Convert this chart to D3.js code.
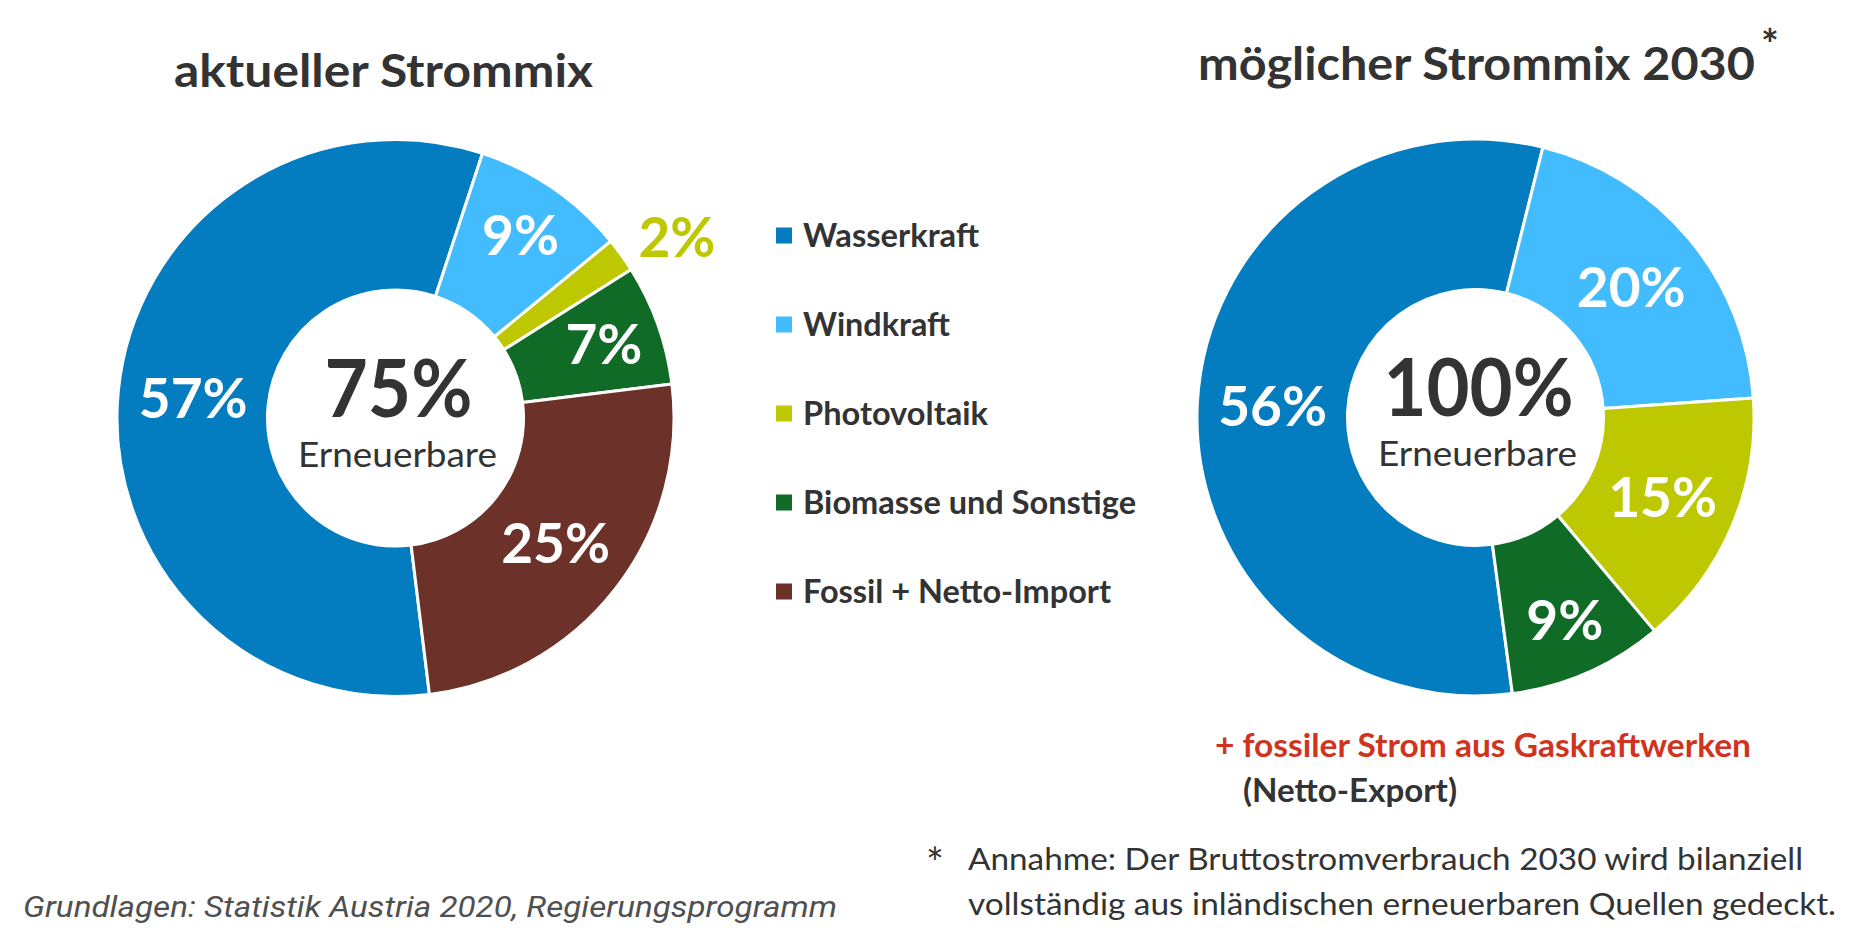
<!DOCTYPE html>
<html>
<head>
<meta charset="utf-8">
<script src="https://cdn.jsdelivr.net/npm/d3@7"></script>
<style>
  html, body { margin: 0; padding: 0; background: #ffffff; }
  svg { display: block; }
</style>
</head>
<body>
<svg id="chart" width="1860" height="945"></svg>
<script>
// ---------------- DATA ----------------
const categories = ["Wasserkraft", "Windkraft", "Photovoltaik", "Biomasse und Sonstige", "Fossil + Netto-Import"];
const currentValues = [57, 9, 2, 7, 25];          // aktueller Strommix (%)
const futureValues = [56, 20, 15, 9];             // möglicher Strommix 2030 (%)
const renewableCount = 4;                          // first four categories are renewable
const titles = ["aktueller Strommix", "möglicher Strommix 2030"];
const centerSubLabel = "Erneuerbare";
const noteRed = "+ fossiler Strom aus Gaskraftwerken";
const noteDark = "(Netto-Export)";
const footnoteLines = ["Annahme: Der Bruttostromverbrauch 2030 wird bilanziell",
                       "vollständig aus inländischen erneuerbaren Quellen gedeckt."];
const sourceText = "Grundlagen: Statistik Austria 2020, Regierungsprogramm";

// ---------------- STYLE ----------------
const colors = ["#037CC0", "#43BBFF", "#BEC800", "#106B27", "#6C3129"];
const dark = "#333333";
const FONT = "Lato, 'Open Sans', sans-serif";

const svg = d3.select("#chart");
const color = d3.scaleOrdinal().domain(categories).range(colors);

const R = 278.5, r0 = 128;
const deg = Math.PI / 180;

function fit(sel, w) { sel.attr("textLength", w).attr("lengthAdjust", "spacingAndGlyphs"); return sel; }

function donut(values, cx, cy, startDeg, centerW) {
  const data = values.map((v, i) => ({ cat: categories[i], v }));
  const pie = d3.pie().sort(null).value(d => d.v)
    .startAngle(startDeg * deg).endAngle(startDeg * deg + 2 * Math.PI);
  const arcs = pie(data);
  const arc = d3.arc().innerRadius(r0).outerRadius(R);
  const g = svg.append("g").attr("transform", `translate(${cx},${cy})`);

  g.selectAll("path.slice").data(arcs).join("path")
    .attr("class", "slice")
    .attr("d", arc)
    .attr("fill", d => color(d.data.cat))
    .attr("stroke", "#ffffff")
    .attr("stroke-width", 3)
    .attr("stroke-linejoin", "round");

  const mid = (R + r0) / 2;
  const inside = arcs.filter(d => d.data.v >= 5);
  const outside = arcs.filter(d => d.data.v < 5);
  const labelPos = d => {
    const lr = d.data.v < 10 ? mid + 18 : mid;
    return d3.arc().innerRadius(lr).outerRadius(lr).centroid(d);
  };

  g.selectAll("text.lbl").data(inside).join("text")
    .attr("class", "lbl")
    .attr("x", d => labelPos(d)[0])
    .attr("y", d => labelPos(d)[1])
    .attr("dy", "0.36em")
    .attr("text-anchor", "middle")
    .attr("font-family", FONT)
    .attr("font-weight", 700)
    .attr("font-size", 55)
    .attr("fill", "#ffffff")
    .text(d => d3.format("d")(d.data.v) + "%");

  // small slices: label outside, next to the outer edge
  const edge = d => d3.arc().innerRadius(R).outerRadius(R).centroid(d);
  g.selectAll("text.out").data(outside).join("text")
    .attr("class", "out")
    .attr("x", d => edge(d)[0] + 17)
    .attr("y", d => edge(d)[1] + 2)
    .attr("text-anchor", "start")
    .attr("font-family", FONT)
    .attr("font-weight", 700)
    .attr("font-size", 55)
    .attr("fill", d => color(d.data.cat))
    .text(d => d3.format("d")(d.data.v) + "%");

  const renewable = d3.sum(values.slice(0, renewableCount));
  fit(g.append("text")
    .attr("x", 3).attr("y", -1.4)
    .attr("text-anchor", "middle")
    .attr("font-family", FONT).attr("font-weight", 700)
    .attr("font-size", 81).attr("fill", dark)
    .text(renewable + "%"), centerW);
  fit(g.append("text")
    .attr("x", 2).attr("y", 48.5)
    .attr("text-anchor", "middle")
    .attr("font-family", FONT).attr("font-weight", 400)
    .attr("font-size", 35.5).attr("fill", dark)
    .text(centerSubLabel), 199);
}

donut(currentValues, 395.5, 418, 173, 148);
donut(futureValues, 1475.5, 417.5, 172.4, 190);

// ---------------- TITLES ----------------
fit(svg.append("text").attr("x", 174).attr("y", 86.7)
  .attr("font-family", FONT).attr("font-weight", 700).attr("font-size", 45.5)
  .attr("fill", dark).text(titles[0]), 419);
fit(svg.append("text").attr("x", 1198).attr("y", 80)
  .attr("font-family", FONT).attr("font-weight", 700).attr("font-size", 45.5)
  .attr("fill", dark).text(titles[1]), 557);
svg.append("text").attr("x", 1761).attr("y", 60)
  .attr("font-family", FONT).attr("font-weight", 700).attr("font-size", 42)
  .attr("fill", dark).text("*");

// ---------------- LEGEND ----------------
const legendWidths = [176, 147, 185, 333, 308];
const legend = svg.append("g").attr("transform", "translate(776,235.5)");
const rows = legend.selectAll("g.row").data(categories).join("g")
  .attr("class", "row")
  .attr("transform", (d, i) => `translate(0,${i * 89})`);
rows.append("rect").attr("x", 0).attr("y", -8).attr("width", 16).attr("height", 16)
  .attr("fill", d => color(d));
rows.append("text").attr("x", 27).attr("y", 11.3)
  .attr("font-family", FONT).attr("font-weight", 700).attr("font-size", 31.7)
  .attr("fill", dark).text(d => d)
  .each(function(d, i) { fit(d3.select(this), legendWidths[i]); });

// ---------------- NOTES ----------------
fit(svg.append("text").attr("x", 1215).attr("y", 757)
  .attr("font-family", FONT).attr("font-weight", 700).attr("font-size", 31.5)
  .attr("fill", "#D0341F").text(noteRed), 536);
fit(svg.append("text").attr("x", 1243).attr("y", 802)
  .attr("font-family", FONT).attr("font-weight", 700).attr("font-size", 31.5)
  .attr("fill", dark).text(noteDark), 214);

svg.append("text").attr("x", 926).attr("y", 878)
  .attr("font-family", FONT).attr("font-weight", 400).attr("font-size", 42)
  .attr("fill", dark).text("*");
const fnW = [835, 868];
footnoteLines.forEach((t, i) => {
  fit(svg.append("text").attr("x", 968).attr("y", 870 + i * 45)
    .attr("font-family", FONT).attr("font-weight", 400).attr("font-size", 30.5)
    .attr("fill", dark).text(t), fnW[i]);
});

fit(svg.append("text").attr("x", 23).attr("y", 917)
  .attr("font-family", "Roboto, 'DejaVu Sans', sans-serif").attr("font-style", "italic")
  .attr("font-weight", 400).attr("font-size", 30)
  .attr("fill", "#505050").text(sourceText), 814);
</script>
</body>
</html>
